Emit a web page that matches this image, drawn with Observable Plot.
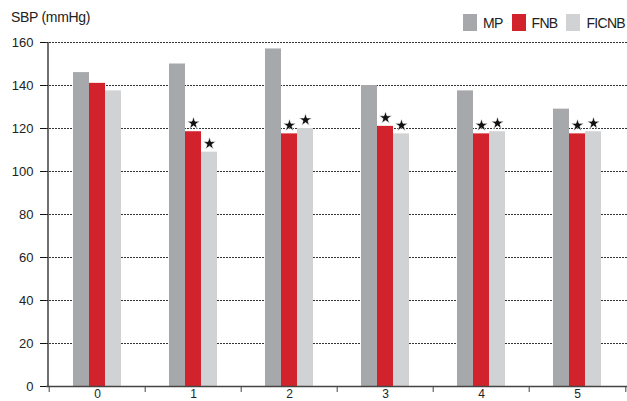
<!DOCTYPE html>
<html><head><meta charset="utf-8">
<script src="https://cdn.jsdelivr.net/npm/d3@7"></script>
<script src="https://cdn.jsdelivr.net/npm/@observablehq/plot@0.6"></script>
<style>
html,body{margin:0;padding:0;background:#fff;}
#wrap{position:relative;width:627px;height:401px;font-family:"Liberation Sans",Arial,sans-serif;color:#222;}
#title{position:absolute;left:11px;top:9px;font-size:14px;letter-spacing:-0.3px;}
#legend{position:absolute;right:2px;top:14px;display:flex;align-items:center;font-size:14px;letter-spacing:-0.7px;height:17px;}
#legend .it{display:flex;align-items:center;margin-left:9px;}
#legend .sw{width:14px;height:17px;margin-right:6px;}
svg{display:block;}
</style></head>
<body><div id="wrap"><div id="chart"></div><div id="title">SBP (mmHg)</div><div id="legend"></div></div>
<script>
const groups = ["0","1","2","3","4","5"];
const series = ["MP","FNB","FICNB"];
const colors = ["#a7a8ab","#d2232c","#d1d2d4"];
const mp    = [146, 150, 157, 140, 137.5, 129];
const fnb   = [141, 118.5, 117.5, 121, 117.5, 117.5];
const ficnb = [137.5, 109, 120, 117.5, 118.5, 118.5];
const starFNB   = [false, true, true, true, true, true];
const starFICNB = [false, true, true, true, true, true];
const yTicks = [0,20,40,60,80,100,120,140,160];

const values = [mp, fnb, ficnb];
const stars = [groups.map(() => false), starFNB, starFICNB];
const offsets = [-16, 0, 16];

const rows = series.map((s, i) => groups.map((g, j) => ({group: g, series: s, value: values[i][j], star: stars[i][j]})));

const marks = [
  Plot.gridY(yTicks.filter(d => d > 0), {stroke: "#333", strokeOpacity: 1, strokeDasharray: "2,1", strokeWidth: 1}),
];
rows.forEach((r, i) => {
  marks.push(Plot.barY(r, {x: "group", y: "value", fill: colors[i], dx: offsets[i]}));
  marks.push(Plot.dot(r.filter(d => d.star), {x: "group", y: "value", dx: offsets[i], dy: -8.5, symbol: "star", r: 4, fill: "#111", stroke: "#fff", strokeWidth: 0.7}));
});
marks.push(
  Plot.ruleY([0], {stroke: "#444", strokeWidth: 1.5}),
  Plot.ruleX([groups[0]], {dx: -49.5, stroke: "#111", strokeWidth: 1.2}),
  Plot.axisY({ticks: yTicks, tickSize: 6, tickPadding: 7, fontSize: 13, label: null, stroke: "#111"}),
  Plot.axisX({tickSize: 0, tickPadding: 3, fontSize: 12, label: null}),
  Plot.axisX({ticks: groups, tickSize: 6, dx: -48.3, stroke: "#444", tickFormat: () => "", label: null}),
  Plot.axisX({ticks: [groups[groups.length - 1]], tickSize: 6, dx: 48.3, stroke: "#444", tickFormat: () => "", label: null})
);

const plot = Plot.plot({
  width: 627, height: 401,
  marginLeft: 46, marginRight: 0, marginTop: 42, marginBottom: 15,
  style: {fontFamily: '"Liberation Sans",Arial,sans-serif', fontSize: "13px", color: "#222", background: "white", overflow: "visible"},
  x: {domain: groups, paddingInner: 0.834, paddingOuter: 0.43, axis: null},
  y: {domain: [0, 160], axis: null},
  marks
});
document.getElementById("chart").appendChild(plot);

const lg = document.getElementById("legend");
series.forEach((s, i) => {
  const it = document.createElement("div"); it.className = "it";
  const sw = document.createElement("div"); sw.className = "sw"; sw.style.background = colors[i];
  const t = document.createElement("span"); t.textContent = s;
  it.appendChild(sw); it.appendChild(t); lg.appendChild(it);
});
</script></body></html>
